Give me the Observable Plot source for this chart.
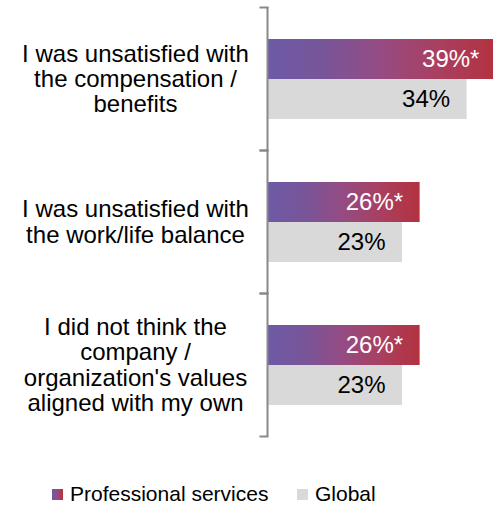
<!DOCTYPE html>
<html>
<head>
<meta charset="utf-8">
<script src="https://cdn.jsdelivr.net/npm/d3@7"></script>
<script src="https://cdn.jsdelivr.net/npm/@observablehq/plot@0.6"></script>
<style>
  html, body { margin: 0; padding: 0; background: #fff; overflow: hidden; }
  body { width: 493px; height: 505px; font-family: "Liberation Sans", Arial, sans-serif; }
  #legend { position: relative; height: 22px; margin-top: 23px; font-size: 21px; color: #000; }
  .item { position: absolute; top: 0; display: flex; align-items: center; height: 22px; white-space: nowrap; }
  .sw { width: 11px; height: 11px; margin-right: 7px; }
</style>
</head>
<body>
<div id="chart"></div>
<div id="legend"></div>
<script>
const categories = [
  "I was unsatisfied with\nthe compensation /\nbenefits",
  "I was unsatisfied with\nthe work/life balance",
  "I did not think the\ncompany /\norganization's values\naligned with my own"
];
const seriesNames = ["Professional services", "Global"];
const professional = [39, 26, 26];
const globalVals = [34, 23, 23];
const significance = ["*", "*", "*"];

const profRows = categories.map((c, i) => ({category: c, series: seriesNames[0], value: professional[i], mark: significance[i]}));
const globRows = categories.map((c, i) => ({category: c, series: seriesNames[1], value: globalVals[i], mark: ""}));

const axisColor = "#898989";

const chart = Plot.plot({
  width: 493,
  height: 460,
  marginLeft: 267,
  marginRight: 0,
  marginTop: 6,
  marginBottom: 24,
  style: {fontFamily: "'Liberation Sans', Arial, sans-serif", background: "white", overflow: "hidden"},
  x: {domain: [0, 38.5], axis: null},
  y: {domain: seriesNames, paddingInner: 0, paddingOuter: 0.76, axis: null},
  fy: {domain: categories, padding: 0, axis: null},
  marks: [
    Plot.barX(profRows, {x: "value", y: "series", fy: "category", fill: "url(#psgrad)"}),
    Plot.barX(globRows, {x: "value", y: "series", fy: "category", fill: "#d9d9d9"}),
    Plot.text(profRows, {x: "value", y: "series", fy: "category", text: d => d.value + "%" + d.mark,
      textAnchor: "end", dx: -17, fill: "white", fontSize: 24}),
    Plot.text(globRows, {x: "value", y: "series", fy: "category", text: d => d.value + "%" + d.mark,
      textAnchor: "end", dx: -17, fill: "black", fontSize: 24}),
    Plot.text(categories, {fy: d => d, text: d => d, frameAnchor: "left", dx: -132, textAnchor: "middle",
      lineHeight: 1.05, fontSize: 24, fill: "black"}),
    Plot.ruleX([0], {stroke: axisColor, strokeWidth: 2}),
    Plot.frame({anchor: "top", stroke: axisColor, strokeWidth: 2, insetLeft: -7, insetRight: 226}),
    Plot.frame({anchor: "bottom", stroke: axisColor, strokeWidth: 2, insetLeft: -7, insetRight: 226})
  ]
});

const svg = d3.select(chart);
const defs = svg.insert("defs", ":first-child");
const grad = defs.append("linearGradient").attr("id", "psgrad").attr("x1", "0").attr("x2", "1").attr("y1", "0").attr("y2", "0");
[[0, "#6d5aa6"], [0.25, "#785599"], [0.5, "#964b82"], [0.75, "#a93f60"], [1, "#b3323f"]]
  .forEach(([o, c]) => grad.append("stop").attr("offset", o).attr("stop-color", c));

document.getElementById("chart").appendChild(chart);

const legend = d3.select("#legend");
const legendLeft = [52, 297];
const swatchFills = ["linear-gradient(to right, #6d5aa6, #964b82, #b3323f)", "#d9d9d9"];
seriesNames.forEach((name, i) => {
  const item = legend.append("div").attr("class", "item").style("left", legendLeft[i] + "px");
  item.append("div").attr("class", "sw").style("background", swatchFills[i]);
  item.append("span").text(name);
});
</script>
</body>
</html>
